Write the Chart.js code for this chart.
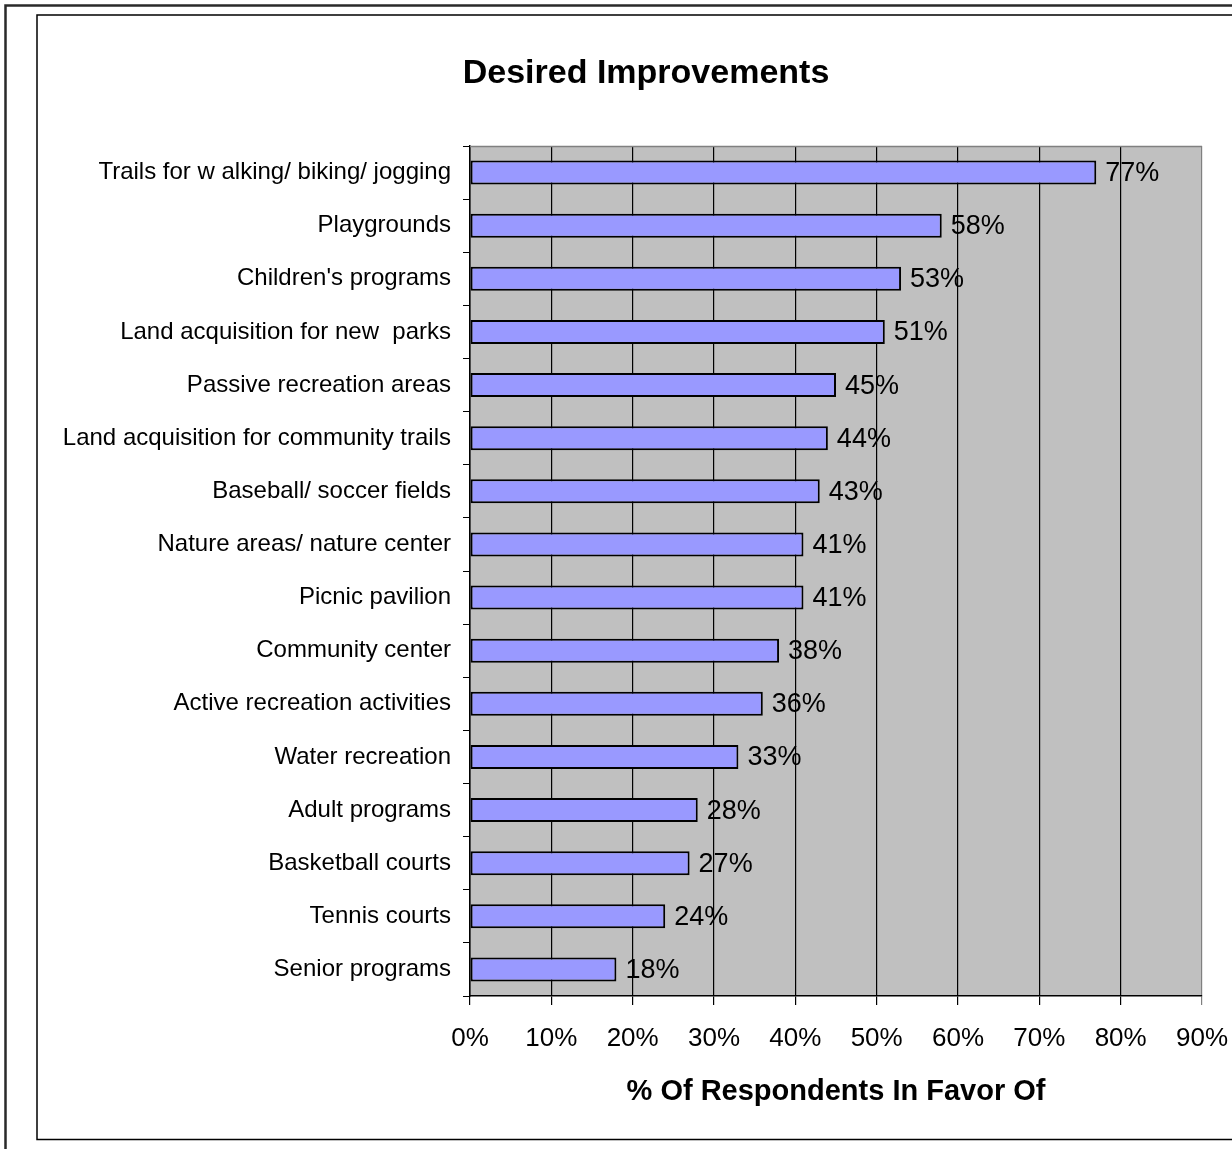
<!DOCTYPE html>
<html>
<head>
<meta charset="utf-8">
<script src="https://cdn.jsdelivr.net/npm/chart.js@4/dist/chart.umd.min.js"></script>
<style>
	html, body { margin: 0; padding: 0; background: #ffffff; }
	#wrap { width: 1232px; height: 1149px; position: relative; }
</style>
</head>
<body>
<div id="wrap"><canvas id="improvements"></canvas></div>
<script>
// values, top bar first
const categories = [
	"Trails for w alking/ biking/ jogging",
	"Playgrounds",
	"Children's programs",
	"Land acquisition for new  parks",
	"Passive recreation areas",
	"Land acquisition for community trails",
	"Baseball/ soccer fields",
	"Nature areas/ nature center",
	"Picnic pavilion",
	"Community center",
	"Active recreation activities",
	"Water recreation",
	"Adult programs",
	"Basketball courts",
	"Tennis courts",
	"Senior programs"
];
const percentInFavor = [77, 58, 53, 51, 45, 44, 43, 41, 41, 38, 36, 33, 28, 27, 24, 18];
const xTicks = [0, 10, 20, 30, 40, 50, 60, 70, 80, 90];
const chartTitle = "Desired Improvements";

const FONT = "'Liberation Sans', Arial, sans-serif";

// frames, grey plot background, title and the value labels
const decorations = {
	id: "decorations",
	beforeDraw(chart) {
		const ctx = chart.ctx;
		const a = chart.chartArea;
		ctx.save();
		ctx.fillStyle = "#ffffff";
		ctx.fillRect(0, 0, chart.width, chart.height);
		// outer frame
		ctx.strokeStyle = "#2a2a2a";
		ctx.lineWidth = 2.5;
		ctx.strokeRect(5.5, 5.5, 1400, 1400);
		// inner frame
		ctx.strokeStyle = "#000000";
		ctx.lineWidth = 1.5;
		ctx.strokeRect(37, 15, 1400, 1124.5);
		// plot background
		ctx.fillStyle = "#c0c0c0";
		ctx.fillRect(a.left, a.top, a.right - a.left, a.bottom - a.top);
		ctx.restore();
	},
	afterDraw(chart) {
		const ctx = chart.ctx;
		const a = chart.chartArea;
		ctx.save();
		ctx.strokeStyle = "#808080";
		ctx.lineWidth = 1.5;
		ctx.beginPath();
		ctx.moveTo(a.left, a.top + 0.5);
		ctx.lineTo(a.right, a.top + 0.5);
		ctx.stroke();

		// title sits a bit off the canvas centre, like the original
		ctx.fillStyle = "#000000";
		ctx.font = "bold 34px " + FONT;
		ctx.textAlign = "center";
		ctx.textBaseline = "middle";
		ctx.fillText(chartTitle, 646, 74);

		ctx.font = "27px " + FONT;
		ctx.textAlign = "left";
		chart.getDatasetMeta(0).data.forEach(function (bar, i) {
			ctx.fillText(percentInFavor[i] + "%", bar.x + 9, bar.y + 1);
		});
		ctx.restore();
	}
};

new Chart(document.getElementById("improvements"), {
	type: "bar",
	data: {
		labels: categories,
		datasets: [{
			data: percentInFavor,
			backgroundColor: "#9999ff",
			borderColor: "#000000",
			borderWidth: 2,
			borderSkipped: false,
			barPercentage: 0.45,
			categoryPercentage: 1
		}]
	},
	options: {
		indexAxis: "y",
		responsive: true,
		maintainAspectRatio: false,
		animation: false,
		layout: {
			padding: { top: 146, right: 30, bottom: 0, left: 0 }
		},
		plugins: {
			legend: { display: false },
			tooltip: { enabled: false },
			title: { display: false }
		},
		scales: {
			x: {
				min: 0,
				max: 90,
				afterBuildTicks: function (scale) {
					scale.ticks = xTicks.map(function (v) { return { value: v }; });
				},
				afterFit: function (scale) {
					scale.height = 153;
					scale.paddingRight = 0;
				},
				grid: {
					color: function (c) { return c.tick && c.tick.value === 90 ? "#808080" : "#000000"; },
					lineWidth: 1.2,
					tickLength: 9
				},
				border: { display: true, color: "#000000", width: 1.5 },
				ticks: {
					color: "#000000",
					padding: 18,
					maxRotation: 0,
					font: { size: 26, family: FONT },
					callback: function (v) { return v + "%"; }
				},
				title: {
					display: true,
					text: "% Of Respondents In Favor Of",
					color: "#000000",
					font: { size: 29, weight: "bold", family: FONT },
					padding: { top: 0, bottom: 40 }
				}
			},
			y: {
				afterFit: function (scale) {
					scale.width = 470;
				},
				grid: {
					drawOnChartArea: false,
					color: "#000000",
					lineWidth: 1,
					tickLength: 7
				},
				border: { display: true, color: "#000000", width: 1.5 },
				ticks: {
					color: "#000000",
					padding: 12,
					autoSkip: false,
					font: { size: 24, family: FONT }
				}
			}
		}
	},
	plugins: [decorations]
});
</script>
</body>
</html>
